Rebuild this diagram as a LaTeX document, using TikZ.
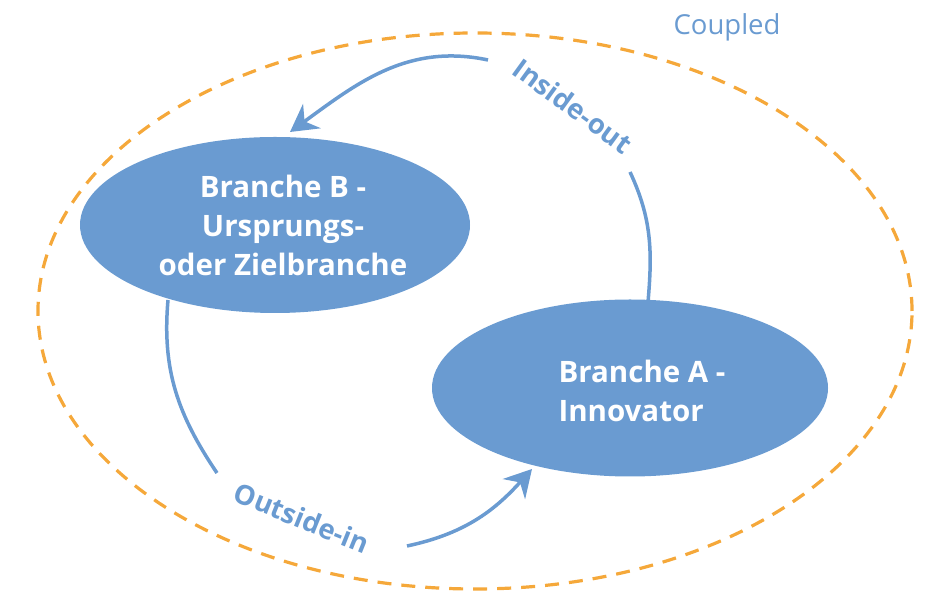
\documentclass[tikz,border=0pt]{standalone}
\usepackage{fontspec}
\setmainfont{Open Sans}
\usepackage{tikz}
\usetikzlibrary{shapes.geometric, arrows.meta}

\definecolor{branchblue}{RGB}{106,155,209}
\definecolor{coupledorange}{RGB}{245,168,58}

\begin{document}
\begin{tikzpicture}[
                x=1pt, y=1pt,
                branch/.style={ellipse, fill=branchblue, inner sep=0pt}, % Blue ellipse for a branch
                branchtext/.style={text=white, font=\fontsize{29.5}{39}\selectfont\bfseries}, % White text inside a branch
                flow/.style={draw=branchblue, line width=3.5pt}, % Arc between branches
                flowlabel/.style={text=branchblue, font=\fontsize{27.5}{30}\selectfont\bfseries}, % Label on an arc
                tip/.style={-{Stealth[length=27pt, width=30pt, inset=9pt]}}
                ]
                \useasboundingbox (0,0) rectangle (925,593);
                % coupled area
                \node[ellipse, draw=coupledorange, line width=3.2pt, dash pattern=on 14pt off 10pt, minimum width=874pt, minimum height=556pt] (coupled) at (475,282) {};
                \node[text=branchblue, font=\fontsize{27.5}{30}\selectfont] (coupledlabel) at (727,566) {Coupled};
                % branches
                \node[branch, minimum width=390pt, minimum height=176pt] (b) at (275,368) {};
                \node[branchtext, align=center] (btext) at ([xshift=8pt]b.center) {Branche B -\\Ursprungs-\\oder Zielbranche};
                \node[branch, minimum width=396pt, minimum height=177pt] (a) at (630,205) {};
                \node[branchtext, align=left] (atext) at ([xshift=12pt, yshift=-3pt]a.center) {Branche A -\\Innovator};
                % ends of the arcs
                \coordinate (ioStart) at (488,533);
                \coordinate (ioEnd) at (290,461);
                \coordinate (ioRest) at (630,421);
                \coordinate (ioTop) at (648,291);
                \coordinate (oiBottom) at (168,293);
                \coordinate (oiRest) at (217,120);
                \coordinate (oiStart) at (407,47);
                \coordinate (oiEnd) at (532,124);
                % inside-out
                \draw[flow, tip] (ioStart) to[out=168, in=36] (ioEnd);
                \draw[flow] (ioRest) to[out=-65, in=85] (ioTop);
                \node[flowlabel, rotate=-36] (inside) at (573,487) {Inside-out};
                % outside-in
                \draw[flow] (oiBottom) to[out=-95, in=124] (oiRest);
                \draw[flow, tip] (oiStart) to[out=12, in=228] (oiEnd);
                \node[flowlabel, rotate=-22] (outside) at (302,75) {Outside-in};
            \end{tikzpicture}
\end{document}
